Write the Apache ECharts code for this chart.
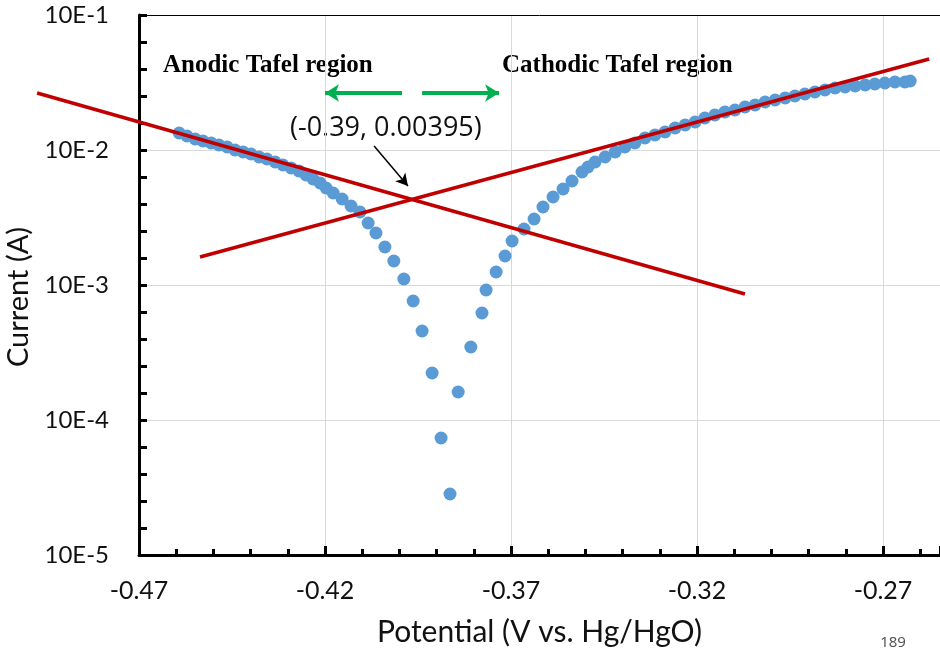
<!DOCTYPE html>
<html>
<head>
<meta charset="utf-8">
<title>Tafel plot</title>
<script src="https://cdn.jsdelivr.net/npm/echarts@6/dist/echarts.min.js"></script>
<style>
  html,body{margin:0;padding:0;background:#fff;}
  #main{width:940px;height:656px;}
</style>
</head>
<body>
<div id="main"></div>
<script>
  var potential = [
    -0.4592,-0.4571,-0.4549,-0.4528,-0.4506,-0.4485,-0.4463,-0.4442,-0.4420,-0.4399,
    -0.4377,-0.4356,-0.4334,-0.4313,-0.4291,-0.4270,-0.4251,-0.4232,-0.4213,-0.4197,
    -0.4178,-0.4154,-0.4130,-0.4106,-0.4084,-0.4063,-0.4039,-0.4015,-0.3988,-0.3963,
    -0.3939,-0.3912,-0.3888,-0.3864,
    -0.3842,-0.3808,-0.3778,-0.3767,-0.3740,-0.3716,-0.3697,-0.3665,-0.3638,-0.3614,
    -0.3587,-0.3560,-0.3536,-0.3509,-0.3493,-0.3474,-0.3447,-0.3420,-0.3394,-0.3367,
    -0.3340,-0.3313,-0.3286,-0.3259,-0.3232,-0.3205,-0.3179,-0.3152,-0.3125,-0.3098,
    -0.3071,-0.3044,-0.3017,-0.2990,-0.2963,-0.2937,-0.2910,-0.2883,-0.2856,-0.2829,
    -0.2802,-0.2775,-0.2748,-0.2722,-0.2695,-0.2668,-0.2641,-0.2627
  ];
  var current = [
    0.01336,0.01270,0.01206,0.01166,0.01127,0.01089,0.01053,0.01000,0.009665,0.009342,
    0.008873,0.008576,0.008150,0.007743,0.007356,0.006989,0.006529,0.006099,0.005697,0.005230,
    0.004803,0.004335,0.003847,0.003472,0.002879,0.002428,0.001912,0.001506,0.001108,0.0007613,
    0.0004562,0.0002229,0.00007356,0.0000283,
    0.0001612,0.0003472,0.0006204,0.0009183,0.001248,0.001640,0.002118,0.002598,0.003083,0.003783,
    0.004487,0.005141,0.005894,0.006871,0.007484,0.008150,0.008873,0.009665,0.01053,0.01127,
    0.01227,0.01292,0.01359,0.01455,0.01532,0.01612,0.01726,0.01816,0.01912,0.01979,
    0.02082,0.02154,0.02268,0.02346,0.02428,0.02512,0.02598,0.02689,0.02783,0.02879,
    0.02929,0.02979,0.03030,0.03083,0.03136,0.03189,0.03189,0.03245
  ];

  // Tafel fit lines (end points)
  var anodicX = [-0.4974, -0.3071];
  var anodicY = [0.02644, 0.000858];
  var cathodicX = [-0.4536, -0.2576];
  var cathodicY = [0.001612, 0.04722];

  // y tick labels are decades (exponents)
  var decades = [-5, -4, -3, -2, -1];

  // annotation arrows: [x1, y1, x2, y2]
  var pointerArrow = [-0.4068, 0.010705, -0.3977, 0.005412];
  var anodicArrow = [-0.3993, 0.02644, -0.4200, 0.02644];
  var cathodicArrow = [-0.3939, 0.02644, -0.3732, 0.02644];

  var myChart = echarts.init(document.getElementById('main'));

  function zip(xs, ys){
    var out = [];
    for (var i = 0; i < xs.length; i++) out.push([xs[i], ys[i]]);
    return out;
  }
  function arrowLine(a, color, width, size){
    return [
      {coord:[a[0], a[1]], symbol:'none', lineStyle:{color:color, width:width, type:'solid'}},
      {coord:[a[2], a[3]], symbol:'arrow', symbolSize:size}
    ];
  }

  var tickFont = 'Lato, "Noto Sans", sans-serif';
  var xMax = -0.25468;
  // the fit lines run past the y axis, so they sit on a wider grid with the same scale
  var xMinWide = -0.47 - 139 * 0.05 / 186;

  var option = {
    backgroundColor: '#fff',
    animation: false,
    grid: [
      {left:139, right:0, top:15, bottom:101, outerBoundsMode:'none', containLabel:false},
      {left:0, right:0, top:15, bottom:101, outerBoundsMode:'none', containLabel:false}
    ],
    xAxis: [{
      type: 'value',
      gridIndex: 0,
      min: -0.47,
      max: xMax,
      interval: 0.05,
      name: 'Potential (V vs. Hg/HgO)',
      nameLocation: 'middle',
      nameGap: 62,
      nameTextStyle: {fontSize:30, color:'#111', fontFamily:tickFont},
      axisLine: {onZero:false, lineStyle:{color:'#000', width:3}},
      axisTick: {inside:true, length:9, lineStyle:{color:'#000', width:3}},
      minorTick: {show:true, splitNumber:5, length:6, lineStyle:{color:'#000', width:3}},
      axisLabel: {
        margin: 23, fontSize:25, color:'#111', fontFamily:tickFont,
        showMaxLabel:false,
        formatter: function(v){ return v.toFixed(2); }
      },
      splitLine: {show:true, lineStyle:{color:'#d9d9d9', width:1}}
    }, {
      type: 'value',
      gridIndex: 0,
      position: 'top',
      min: -0.47,
      max: xMax,
      axisLine: {show:true, onZero:false, lineStyle:{color:'#000', width:1}},
      axisTick: {show:false},
      axisLabel: {show:false},
      splitLine: {show:false}
    }, {
      type: 'value',
      gridIndex: 1,
      min: xMinWide,
      max: xMax,
      show: false
    }],
    yAxis: [{
      type: 'log',
      gridIndex: 0,
      position: 'left',
      logBase: 10,
      min: 0.00001,
      max: 0.1,
      show: false
    }, {
      // decade axis drawn evenly, like the spreadsheet original
      type: 'value',
      gridIndex: 0,
      position: 'left',
      offset: 0,
      min: decades[0],
      max: decades[decades.length - 1],
      interval: 1,
      name: 'Current (A)',
      nameLocation: 'middle',
      nameGap: 91,
      nameTextStyle: {fontSize:29, color:'#111', fontFamily:tickFont, padding:[0,0,0,-24]},
      axisLine: {show:true, onZero:false, lineStyle:{color:'#000', width:3}},
      axisTick: {inside:true, length:8, lineStyle:{color:'#000', width:3}},
      minorTick: {show:true, splitNumber:5, length:8, lineStyle:{color:'#000', width:3}},
      axisLabel: {
        margin: 30, fontSize:24, color:'#111', fontFamily:tickFont,
        formatter: function(v){ return '10E' + v; }
      },
      splitLine: {show:true, lineStyle:{color:'#d9d9d9', width:1}}
    }, {
      type: 'log',
      gridIndex: 1,
      logBase: 10,
      min: 0.00001,
      max: 0.1,
      show: false
    }],
    series: [
      {
        name: 'Current',
        type: 'scatter',
        xAxisIndex: 0,
        yAxisIndex: 0,
        data: zip(potential, current),
        symbolSize: 13,
        itemStyle: {color:'#5b9bd5', opacity:1},
        z: 2,
        markLine: {
          silent: true,
          animation: false,
          label: {show:false},
          emphasis: {disabled:true},
          data: [
            arrowLine(pointerArrow, '#000', 1.5, [10, 12]),
            arrowLine(anodicArrow, '#00b050', 4, [13, 14]),
            arrowLine(cathodicArrow, '#00b050', 4, [13, 14])
          ]
        }
      },
      {
        name: 'Anodic fit',
        type: 'line',
        xAxisIndex: 2,
        yAxisIndex: 2,
        data: zip(anodicX, anodicY),
        showSymbol: false,
        lineStyle: {color:'#c00000', width:3.5},
        z: 3
      },
      {
        name: 'Cathodic fit',
        type: 'line',
        xAxisIndex: 2,
        yAxisIndex: 2,
        data: zip(cathodicX, cathodicY),
        showSymbol: false,
        lineStyle: {color:'#c00000', width:3.5},
        z: 3
      }
    ],
    graphic: [
      {type:'text', x:163, y:66, style:{text:'Anodic Tafel region', fill:'#000', font:'bold 25px "Liberation Serif", serif', verticalAlign:'middle'}},
      {type:'text', x:502, y:66, style:{text:'Cathodic Tafel region', fill:'#000', font:'bold 25px "Liberation Serif", serif', verticalAlign:'middle'}},
      {type:'text', x:290, y:128, style:{text:'(-0.39, 0.00395)', fill:'#111', font:'27px "Open Sans", sans-serif', verticalAlign:'middle'}},
      {type:'text', x:893, y:643, style:{text:'189', fill:'#555', font:'15px "Noto Sans", sans-serif', align:'center', verticalAlign:'middle'}}
    ]
  };

  myChart.setOption(option);
</script>
</body>
</html>
